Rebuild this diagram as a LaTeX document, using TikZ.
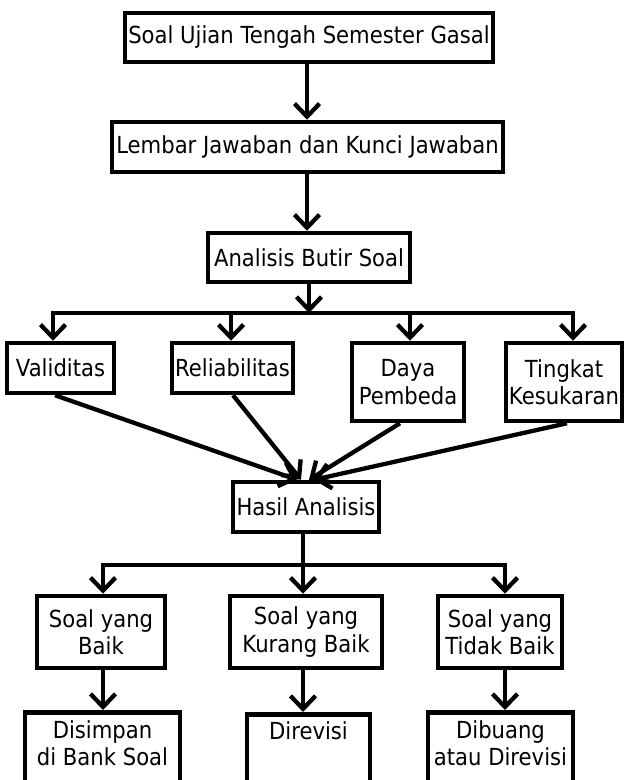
\documentclass[tikz,border=0pt]{standalone}
\usepackage{fontspec}
\setmainfont{DejaVu Sans}[FakeStretch=0.9]
\usetikzlibrary{arrows.meta}
\begin{document}
\begin{tikzpicture}[x=1pt,y=-1pt,
  box/.style={draw, line width=4.5pt, rectangle, inner sep=0pt, align=center,
    font=\fontsize{23.5}{27.5}\selectfont},
  lbl/.style={align=center, inner sep=0pt, font=\fontsize{23.5}{27.5}\selectfont},
  conn/.style={line width=4.3pt, line cap=rect},
  arr/.style={line width=4.3pt, -{Straight Barb[length=13pt,width=25pt]}}]
\useasboundingbox (0,0) rectangle (624,780);
\clip (0,0) rectangle (624,780);

% level 1-3
\node[box, minimum width=368pt, minimum height=49pt] (n1) at (309,37.5) {Soal Ujian Tengah Semester Gasal};
\node[box, minimum width=391pt, minimum height=50pt] (n2) at (307.5,147) {Lembar Jawaban dan Kunci Jawaban};
\node[box, minimum width=202pt, minimum height=49pt] (n3) at (309,257.5) {Analisis Butir Soal};

% level 4
\node[box, minimum width=107pt, minimum height=50pt] (v) at (60.5,368) {Validitas};
\node[box, minimum width=121pt, minimum height=50pt] (r) at (232.5,368) {Reliabilitas};
\node[box, minimum width=112pt, minimum height=78pt] (d) at (408,382) {Daya\\Pembeda};
\node[box, minimum width=116pt, minimum height=78pt] (t) at (564,382) {Tingkat\\Kesukaran};

% hasil
\node[box, minimum width=146pt, minimum height=50pt] (h) at (306,507) {Hasil Analisis};

% level 6
\node[box, minimum width=128pt, minimum height=72pt] (b1) at (101,632) {Soal yang\\Baik};
\node[box, minimum width=152pt, minimum height=72pt] (b2) at (306,632) {Soal yang\\Kurang Baik};
\node[box, minimum width=124pt, minimum height=72pt] (b3) at (500,632) {Soal yang\\Tidak Baik};

% level 7 (cut off at the bottom)
\node[box, anchor=north, minimum width=155pt, minimum height=100pt,
  label={[lbl, anchor=north, yshift=-10pt]north:{Disimpan\\di Bank Soal}}] (c1) at (102.5,710) {};
\node[box, anchor=north, minimum width=123pt, minimum height=100pt,
  label={[lbl, anchor=north, yshift=-9pt]north:{Direvisi}}] (c2) at (308.5,712) {};
\node[box, anchor=north, minimum width=145pt, minimum height=100pt,
  label={[lbl, anchor=north, yshift=-10pt]north:{Dibuang\\atau Direvisi}}] (c3) at (500.5,710) {};

% connectors top
\coordinate (k) at (307,0);
\draw[arr] (k |- n1.south) -- (k |- n2.north);
\draw[arr] (k |- n2.south) -- (k |- n3.north);

\coordinate (m1) at (309,313);
\coordinate (a1) at (53,313);
\coordinate (a2) at (231,313);
\coordinate (a3) at (410,313);
\coordinate (a4) at (573,313);
\draw[arr] (n3.south) -- (m1);
\draw[conn] (a1) -- (a4);
\draw[arr] (a1) -- (a1 |- v.north);
\draw[arr] (a2) -- (a2 |- r.north);
\draw[arr] (a3) -- (a3 |- d.north);
\draw[arr] (a4) -- (a4 |- t.north);

% converging
\draw[arr] ([xshift=-5.5pt]v.south) -- ([xshift=-9pt]h.north);
\draw[arr] ([xshift=0.5pt]r.south) -- ([xshift=-5pt]h.north);
\draw[arr] ([xshift=-8pt]d.south) -- ([xshift=3pt]h.north);
\draw[arr] ([xshift=3pt]t.south) -- ([xshift=8pt]h.north);

% lower branch
\coordinate (m2) at (303,565);
\coordinate (e1) at (103,565);
\coordinate (e3) at (505,565);
\draw[conn] (m2 |- h.south) -- (m2);
\draw[conn] (e1) -- (e3);
\draw[arr] (e1) -- (e1 |- b1.north);
\draw[arr] (m2) -- (m2 |- b2.north);
\draw[arr] (e3) -- (e3 |- b3.north);

\draw[arr] (e1 |- b1.south) -- (e1 |- c1.north);
\draw[arr] (m2 |- b2.south) -- (m2 |- c2.north);
\draw[arr] (e3 |- b3.south) -- (e3 |- c3.north);
\end{tikzpicture}
\end{document}
